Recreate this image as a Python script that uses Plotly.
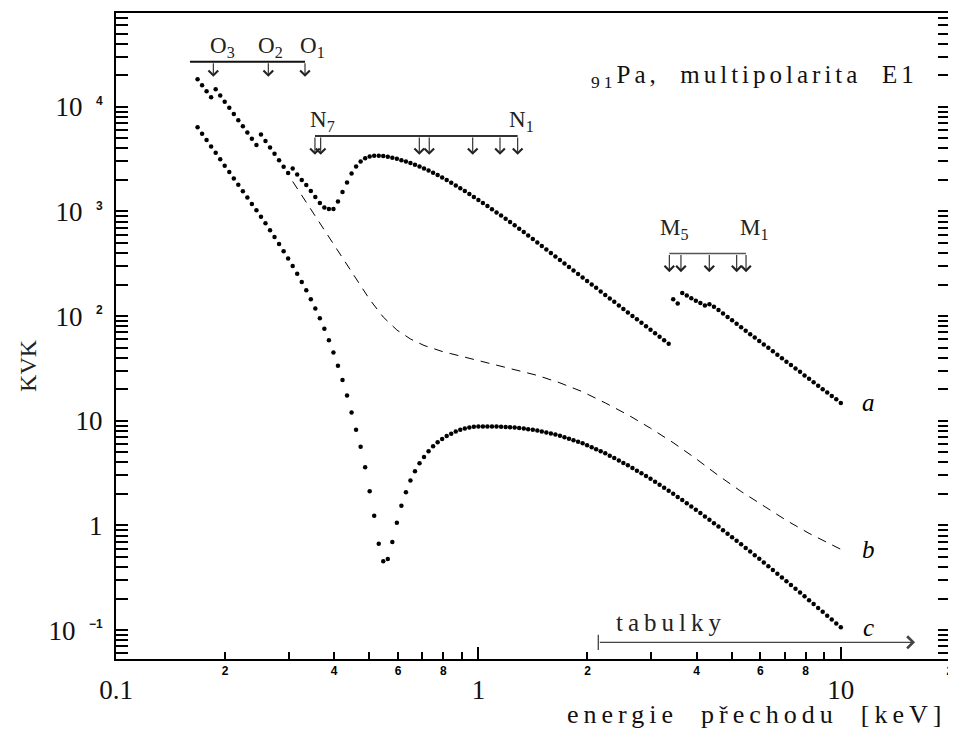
import math
import plotly.graph_objects as go

# ---------------- data ----------------
# transition energy grid (keV) shared by series a and c
energy = [0.1679, 0.1728, 0.1778, 0.1830, 0.1884, 0.1939, 0.1995, 0.2054, 0.2114, 0.2175,
          0.2239, 0.2304, 0.2371, 0.2441, 0.2512, 0.2585, 0.2661, 0.2738, 0.2818, 0.2901,
          0.2985, 0.3073, 0.3162, 0.3255, 0.3350, 0.3448, 0.3548, 0.3652, 0.3758, 0.3868,
          0.3981, 0.4097, 0.4217, 0.4340, 0.4467, 0.4597, 0.4732, 0.4870, 0.5012, 0.5158,
          0.5309, 0.5464, 0.5623, 0.5788, 0.5957, 0.6131, 0.6310, 0.6494, 0.6683, 0.6879,
          0.7079, 0.7286, 0.7499, 0.7718, 0.7943, 0.8175, 0.8414, 0.8660, 0.8913, 0.9173,
          0.9441, 0.9716,
          1.000, 1.029, 1.059, 1.090, 1.122, 1.155, 1.189, 1.223, 1.259, 1.296,
          1.334, 1.372, 1.413, 1.454, 1.496, 1.540, 1.585, 1.631, 1.679, 1.728,
          1.778, 1.830, 1.884, 1.939, 1.995, 2.054, 2.113, 2.175, 2.239, 2.304,
          2.371, 2.441, 2.512, 2.585, 2.661, 2.738, 2.818, 2.901, 2.985, 3.073,
          3.162, 3.255, 3.350, 3.448, 3.548, 3.652, 3.758, 3.868, 3.981, 4.097,
          4.217, 4.340, 4.467, 4.597, 4.732, 4.870, 5.012, 5.158, 5.309, 5.464,
          5.623, 5.788, 5.957, 6.131, 6.310, 6.494, 6.683, 6.879, 7.079, 7.286,
          7.499, 7.718, 7.943, 8.175, 8.414, 8.660, 8.913, 9.173, 9.441, 9.716,
          10.00]

kvk_a = [18280, 16020, 14050, 12320, 14680, 12810, 11180, 9761, 8520, 7435,
         6492, 5666, 4946, 4317, 5412, 4703, 4079, 3544, 3081, 2672,
         2322, 2568, 2251, 1995, 1788, 1568, 1374, 1205, 1092, 1056,
         1052, 1245, 1534, 1889, 2301, 2683, 2994, 3218, 3340, 3392,
         3399, 3377, 3319, 3246, 3176, 3086, 2994, 2891, 2791, 2677,
         2568, 2452, 2342, 2222, 2108, 1991, 1881, 1768, 1667, 1564,
         1468, 1374, 1287, 1202, 1123, 1047, 978, 912, 850, 793,
         739, 684, 634, 587, 544, 503, 466, 432, 400, 370,
         343, 318, 294, 272, 252, 234, 216, 200, 186, 172,
         159, 147, 137, 126, 117, 108, 100.4, 93.0, 86.1, 79.8,
         73.9, 68.4, 63.4, 58.7, 54.4, 145, 132, 166, 157, 148,
         140, 133, 126, 130, 123, 114, 106, 98.1, 91.0, 84.4,
         78.2, 72.5, 67.2, 62.3, 57.8, 53.6, 49.7, 46.1, 42.7, 39.6,
         36.7, 34.0, 31.6, 29.3, 27.1, 25.2, 23.3, 21.6, 20.0, 18.6,
         17.2, 16.0, 14.8]

kvk_c = [6352, 5520, 4797, 4169, 3622, 3148, 2736, 2378, 2066, 1796,
         1561, 1356, 1179, 1024, 890, 769, 662, 569, 488, 417,
         354, 300, 253, 212, 176, 145, 118, 95.3, 75.5, 58.8,
         44.9, 33.6, 24.5, 17.4, 12.0, 8.21, 5.65, 3.59, 2.12, 1.237,
         0.669, 0.454, 0.478, 0.693, 1.061, 1.540, 2.076, 2.683, 3.289, 3.920,
         4.511, 5.101, 5.690, 6.214, 6.694, 7.150, 7.520, 7.909, 8.210, 8.448,
         8.635, 8.769, 8.80, 8.83, 8.83, 8.81, 8.787, 8.749, 8.710, 8.672,
         8.635, 8.522, 8.411, 8.299, 8.191, 8.084, 7.899, 7.719, 7.543, 7.372,
         7.204, 6.964, 6.731, 6.507, 6.290, 6.080, 5.820, 5.569, 5.330, 5.101,
         4.882, 4.631, 4.394, 4.169, 3.955, 3.752, 3.537, 3.334, 3.142, 2.961,
         2.791, 2.613, 2.446, 2.291, 2.145, 2.009, 1.873, 1.745, 1.627, 1.517,
         1.414, 1.313, 1.218, 1.130, 1.049, 0.974, 0.901, 0.834, 0.771, 0.713,
         0.660, 0.609, 0.562, 0.519, 0.479, 0.442, 0.407, 0.375, 0.346, 0.318,
         0.293, 0.270, 0.248, 0.228, 0.210, 0.193, 0.1774, 0.1629, 0.1496, 0.1373,
         0.1260, 0.1157, 0.1062]

energy_b = [0.3073, 0.3255, 0.3448, 0.3652, 0.3868, 0.4097, 0.4340, 0.4597, 0.5012, 0.5464,
            0.5957, 0.6494, 0.7079, 0.7943, 0.8913, 1.000, 1.122, 1.259, 1.454, 1.679,
            1.939, 2.239, 2.585, 2.985, 3.448, 3.981, 4.597, 5.309, 6.131, 7.079,
            8.175, 10.00]
kvk_b = [1931, 1420, 1045, 769, 565, 416, 306, 225, 144, 97.8,
         73.6, 60.4, 52.4, 45.9, 41.6, 37.7, 34.1, 30.9, 27.1, 23.0,
         18.9, 14.8, 11.4, 8.48, 6.17, 4.35, 2.99, 2.11, 1.52, 1.116,
         0.839, 0.591]

# absorption edges (keV) and marker levels
o_edges = [0.1856, 0.2632, 0.3323]
o_bar = [0.160, 0.3323]
o_level, o_tip = 26830, 19310
o_labels = ["O<sub>3</sub>", "O<sub>2</sub>", "O<sub>1</sub>"]
o_label_x = [0.1973, 0.2677, 0.3474]
o_label_y = 37270

n_edges = [0.354, 0.3671, 0.6869, 0.7317, 0.9645, 1.1472, 1.2834]
n_bar = [0.354, 1.2834]
n_level, n_tip = 5260, 3467
n_labels = ["N<sub>7</sub>", "N<sub>1</sub>"]
n_label_x = [0.3702, 1.319]
n_label_y = 7356

m_edges = [3.364, 3.622, 4.336, 5.161, 5.476]
m_bar = [3.364, 5.476]
m_level, m_tip = 395.5, 262.4
m_labels = ["M<sub>5</sub>", "M<sub>1</sub>"]
m_label_x = [3.486, 5.761]
m_label_y = 674

tab_range = [2.142, 16.03]
tab_level = 0.0764
tab_label_x = 3.40
series_label_x = 11.96

x_minor_labels = [0.2, 0.4, 0.6, 0.8, 2, 4, 6, 8, 20]
x_minor_text = ["2", "4", "6", "8", "2", "4", "6", "8", "2"]
x_minor_ticks = [0.3, 0.5, 0.7, 0.9, 3, 5, 7, 9]
x_major = [0.1, 1, 10]
x_major_text = ["0.1", "1", "10"]
y_major = [0.1, 1, 10, 100, 1000, 10000]
y_exponents = ["\u22121", None, None, "2", "3", "4"]
y_plain = ["", "1", "10", "", "", ""]
y_minor = [m * d for d in [0.01, 0.1, 1, 10, 100, 1000, 10000] for m in range(2, 10)]

# ---------------- styling ----------------
SERIF = "Liberation Serif, Times New Roman, serif"
SMALL = "Liberation Sans, Arial, sans-serif"


def sup_label(exp):
    return ("10\u00a0\u00a0<sup><span style='font-family:Liberation Sans;font-weight:bold;"
            "font-size:12px'>" + exp + "</span></sup>")


y_ticktext = [sup_label(e) if e else p for e, p in zip(y_exponents, y_plain)]


def spaced(txt, ls):
    return ("<span style='font-family:Liberation Serif;letter-spacing:%spx'>%s</span>"
            % (ls, txt))


fig = go.Figure()

dot = dict(size=4.5, color="black", line=dict(width=0))
fig.add_trace(go.Scatter(x=energy, y=kvk_a, mode="markers", marker=dot, name="a"))
fig.add_trace(go.Scatter(x=energy, y=kvk_c, mode="markers", marker=dot, name="c"))
fig.add_trace(go.Scatter(x=energy_b, y=kvk_b, mode="lines", xaxis="x2",
                         line=dict(color="black", width=1, dash="9px,7px"), name="b"))

# edge bars
for bar, lev, col, w in [(o_bar, o_level, "#111", 2), (n_bar, n_level, "#333", 2),
                         (m_bar, m_level, "#555", 1.5)]:
    fig.add_trace(go.Scatter(x=bar, y=[lev, lev], mode="lines",
                             line=dict(color=col, width=w), hoverinfo="skip"))

# tabulky range start tick
fig.add_trace(go.Scatter(x=[tab_range[0]], y=[tab_level], mode="markers",
                         marker=dict(symbol="line-ns-open", size=11, color="#444",
                                     line=dict(color="#444", width=1.3)),
                         hoverinfo="skip"))

ann = []
for edges, lev, tip in [(o_edges, o_level, o_tip), (n_edges, n_level, n_tip),
                        (m_edges, m_level, m_tip)]:
    for e in edges:
        ann.append(dict(x=math.log10(e), y=math.log10(tip), ax=math.log10(e),
                        ay=math.log10(lev), xref="x", yref="y", axref="x", ayref="y",
                        text="", showarrow=True, arrowhead=4, arrowsize=1.7,
                        arrowwidth=1.1, arrowcolor="#222"))

lab_font = dict(family=SERIF, size=23, color="#222")
for labs, xs, yv in [(o_labels, o_label_x, o_label_y), (n_labels, n_label_x, n_label_y),
                     (m_labels, m_label_x, m_label_y)]:
    for t, xv in zip(labs, xs):
        ann.append(dict(x=math.log10(xv), y=math.log10(yv), xref="x", yref="y",
                        xanchor="center", yanchor="middle",
                        text=t, showarrow=False, font=lab_font))

# tabulky arrow and text
ann.append(dict(x=math.log10(tab_range[1]), y=math.log10(tab_level),
                ax=math.log10(tab_range[0]), ay=math.log10(tab_level),
                xref="x", yref="y", axref="x", ayref="y", text="", showarrow=True,
                arrowhead=4, arrowsize=1.8, arrowwidth=1.3, arrowcolor="#444"))
ann.append(dict(x=math.log10(tab_label_x), y=math.log10(tab_level), yshift=20,
                xref="x", yref="y", xanchor="center", yanchor="middle",
                text=spaced("tabulky", 5), showarrow=False,
                font=dict(family=SERIF, size=25, color="#222")))

# series labels a, b, c placed at end values
for t, yv in [("a", kvk_a[-1]), ("b", kvk_b[-1]), ("c", kvk_c[-1])]:
    ann.append(dict(x=math.log10(series_label_x), y=math.log10(yv), xref="x", yref="y",
                    xanchor="center", yanchor="middle",
                    text="<i>%s</i>" % t, showarrow=False,
                    font=dict(family=SERIF, size=25, color="black")))

# title, axis titles
ann.append(dict(x=0.766, y=0.901, xref="paper", yref="paper", showarrow=False,
                xanchor="center", yanchor="middle",
                text=spaced("<sub>91</sub>Pa,  multipolarita  E1", 4),
                font=dict(family=SERIF, size=25, color="#111")))
ann.append(dict(x=-0.1055, y=0.4537, xref="paper", yref="paper", showarrow=False,
                xanchor="center", yanchor="middle",
                textangle=-90, text="KVK",
                font=dict(family=SERIF, size=24, color="#222")))
ann.append(dict(x=0.7674, y=-0.086, xref="paper", yref="paper", showarrow=False,
                xanchor="center", yanchor="middle",
                text=spaced("energie  přechodu  [keV]", 5),
                font=dict(family=SERIF, size=26, color="#111")))

xr = [-1.0, math.log10(20) + 0.0003]
yr = [-1.2762, 4.8952]

# the page body adds an 8 px offset, margins compensate for it
fig.update_layout(
    width=956, height=731,
    margin=dict(l=108, r=14, t=3, b=80),
    paper_bgcolor="white", plot_bgcolor="white",
    showlegend=False,
    annotations=ann,
    xaxis=dict(type="log", range=xr, showgrid=False, zeroline=False,
               showline=True, linewidth=2, linecolor="black", mirror=True,
               tickmode="array", tickvals=x_minor_labels, ticktext=x_minor_text,
               ticks="inside", ticklen=7, tickwidth=1.5, tickcolor="black",
               tickfont=dict(family=SMALL, size=12, color="black", weight="bold"),
               ticklabelstandoff=0,
               minor=dict(tickmode="array", tickvals=x_minor_ticks, ticks="inside",
                          ticklen=7, tickwidth=1.5, tickcolor="black")),
    xaxis2=dict(type="log", range=xr, overlaying="x", anchor="y", side="bottom",
                showgrid=False, zeroline=False, showline=False,
                tickmode="array", tickvals=x_major, ticktext=x_major_text,
                ticks="inside", ticklen=12, tickwidth=1.5, tickcolor="black",
                tickfont=dict(family=SERIF, size=27, color="#111"),
                ticklabelstandoff=12),
    yaxis=dict(type="log", range=yr, showgrid=False, zeroline=False,
               showline=True, linewidth=2, linecolor="black", mirror="allticks",
               tickmode="array", tickvals=y_major, ticktext=y_ticktext,
               ticks="inside", ticklen=12, tickwidth=1.5, tickcolor="black",
               tickfont=dict(family=SERIF, size=27, color="#111"),
               ticklabelstandoff=6,
               minor=dict(tickmode="array", tickvals=y_minor, ticks="inside",
                          ticklen=7, tickwidth=1.5, tickcolor="black")),
)

fig.write_html("out.html")
